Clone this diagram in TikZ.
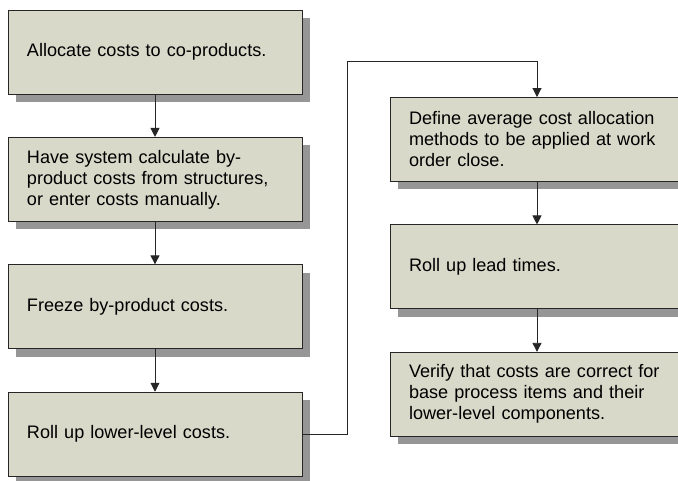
\documentclass[tikz,border=0pt]{standalone}
\usepackage{fontspec}
\setmainfont{Liberation Sans}
\usetikzlibrary{positioning,shadows,arrows.meta}
\definecolor{stepfill}{RGB}{216,217,201}
\definecolor{stepshade}{RGB}{150,150,150}

\begin{document}
\begin{tikzpicture}[x=1pt, y=-1pt, >={Triangle[width=9pt,length=9pt]},
    node distance=42.5pt,
    stepbox/.style={draw=black!85, line width=0.9pt, fill=stepfill,
      minimum width=294pt, minimum height=84pt, text width=256pt,
      inner xsep=19pt, align=left,
      font=\fontsize{18.1}{21}\selectfont,
      drop shadow={shadow xshift=8pt, shadow yshift=-8pt,
        fill=stepshade, opacity=1}},
    link/.style={->, draw=black!85, line width=0.9pt}]
  % the page size, boxes on the right run off the edge
  \useasboundingbox (0,0) rectangle (678,481);
  \clip (0,0) rectangle (678,481);

  % Left column
  \node[stepbox] (alloc) at (155,52) {Allocate costs to co-products.};
  \node[stepbox, below=of alloc] (byprod) {Have system calculate by-\\
    product costs from structures,\\ or enter costs manually.};
  \node[stepbox, below=of byprod] (freeze) {Freeze by-product costs.};
  \node[stepbox, below=of freeze] (rolllow) {Roll up lower-level costs.};

  % Right column
  \node[stepbox] (define) at (537,139.5) {Define average cost allocation\\
    methods to be applied at work\\ order close.};
  \node[stepbox, below=of define] (rolllead) {Roll up lead times.};
  \node[stepbox, below=of rolllead] (verify) {Verify that costs are correct for\\
    base process items and their\\ lower-level components.};

  % The connectors
  \draw[link] (alloc) -- (byprod);
  \draw[link] (byprod) -- (freeze);
  \draw[link] (freeze) -- (rolllow);
  \coordinate (turn) at (347,61);
  \draw[link] (rolllow.east) -| (turn) -| (define.north);
  \draw[link] (define) -- (rolllead);
  \draw[link] (rolllead) -- (verify);
\end{tikzpicture}
\end{document}
